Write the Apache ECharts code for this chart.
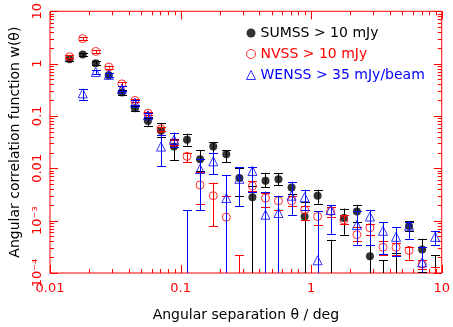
<!DOCTYPE html>
<html><head><meta charset="utf-8">
<script src="https://cdn.jsdelivr.net/npm/echarts@6/dist/echarts.min.js"></script>
<style>html,body{margin:0;padding:0;background:#fff}#c{width:453px;height:327px}</style>
</head><body><div id="c"></div><script>
// angular bins (deg)
const theta = [0.0141, 0.0178, 0.0224, 0.0282, 0.0355, 0.0447, 0.0562, 0.0708, 0.0891, 0.112, 0.141, 0.178, 0.224, 0.282, 0.355, 0.447, 0.562, 0.708, 0.891, 1.12, 1.41, 1.78, 2.24, 2.82, 3.55, 4.47, 5.62, 7.08, 8.91];
// SUMSS > 10 mJy
const sumssW  = [1.21, 1.5, 1.02, 0.60, 0.28, 0.14, 0.080, 0.052, 0.026, 0.035, 0.0149, 0.026, 0.0185, 0.0065, 0.0028, 0.0058, 0.0062, 0.0043, 0.0012, 0.0030, -0.0002, 0.00112, 0.0015, 0.00021, -0.0001, -0.0001, 0.00079, 0.00028, -0.0001];
const sumssLo = [1.12, 1.4, 0.95, 0.55, 0.25, 0.125, 0.064, 0.040, 0.0143, 0.027, 0.009, 0.020, 0.013, 0.003, 0, 0.0043, 0.0048, 0.0033, 0, 0.0021, 0, 0.00054, 0.00096, 0, 0, 0, 0.00064, 0.000104, 0];
const sumssHi = [1.30, 1.6, 1.1, 0.65, 0.31, 0.155, 0.090, 0.073, 0.036, 0.046, 0.022, 0.032, 0.022, 0.010, 0.0045, 0.0082, 0.0081, 0.0055, 0.0023, 0.0039, 0.00043, 0.0017, 0.0020, 0.00054, 0.000175, 0.00024, 0.00098, 0.00045, 0.00022];
// NVSS > 10 mJy
const nvssW  = [1.35, 3.0, 1.71, 0.86, 0.41, 0.198, 0.113, 0.057, 0.031, 0.0169, 0.0048, 0.0030, 0.00117, -0.0001, 0.0046, 0.0027, 0.0024, 0.0024, 0.0016, 0.0012, 0.0015, 0.00103, 0.00054, 0.00073, 0.00031, 0.00031, 0.00027, 0.000148, -0.0001];
const nvssLo = [1.27, 2.8, 1.6, 0.80, 0.38, 0.185, 0.105, 0.052, 0.028, 0.0131, 0.0021, 0.00079, 0, 0, 0.0037, 0.0018, 0.0016, 0.0019, 0.00103, 0.00083, 0.00115, 0.00086, 0.0004, 0.00054, 0.00022, 0.00022, 0.00018, 0.00012, 0];
const nvssHi = [1.45, 3.2, 1.82, 0.92, 0.44, 0.21, 0.121, 0.062, 0.034, 0.020, 0.0085, 0.0053, 0.0030, 0.00022, 0.0058, 0.0034, 0.0029, 0.0029, 0.0019, 0.0015, 0.0018, 0.0013, 0.00076, 0.00086, 0.00040, 0.00038, 0.00032, 0.00018, 0.00013];
// WENSS > 35 mJy/beam
const wenssW  = [null, 0.27, 0.69, 0.61, 0.33, 0.18, 0.103, 0.026, 0.035, -0.0005, 0.0097, 0.0136, 0.0027, 0.0063, 0.0089, 0.0013, 0.0014, 0.0030, 0.0028, 0.000175, 0.0016, null, 0.00083, 0.0012, 0.00064, 0.00049, 0.0008, 0.00016, 0.00049];
const wenssLo = [null, 0.20, 0.63, 0.56, 0.30, 0.165, 0.094, 0.011, 0.026, 0, 0.0016, 0.0078, 0, 0.0019, 0.0035, 0, 0, 0.0013, 0.0016, 0, 0.00056, null, 0.00035, 0.00035, 0.00023, 0.00021, 0.00045, 0, 0.00035];
const wenssHi = [null, 0.33, 0.75, 0.66, 0.37, 0.20, 0.113, 0.044, 0.048, 0.0016, 0.0149, 0.020, 0.0075, 0.0105, 0.0107, 0.0036, 0.0030, 0.0055, 0.0039, 0.0015, 0.0020, null, 0.0015, 0.0016, 0.00094, 0.00076, 0.00094, 0.00031, 0.00064];

const seriesNames = ['SUMSS > 10 mJy', 'NVSS > 10 mJy', 'WENSS > 35 mJy/beam'];
const xTickLabels = ['0.01', '0.1', '1', '10'];
const yTickLabels = ['10\u207B\u2074', '10\u207B\u00B3', '0.01', '0.1', '1', '10'];
const FONT = 'DejaVu Sans';
const RED = '#ff0000', BLUE = '#0000ff', BLACK = '#000000';

// tick marks (major decades + minor 2..9)
const tickData = [];
for (let k = -2; k <= 1; k++) {
  tickData.push([Math.pow(10, k), 1, 0, 1]);
  if (k < 1) for (let n = 2; n <= 9; n++) tickData.push([n * Math.pow(10, k), 1, 0, 0]);
}
for (let k = -4; k <= 1; k++) {
  tickData.push([1, Math.pow(10, k), 1, 1]);
  if (k < 1) for (let n = 2; n <= 9; n++) tickData.push([1, n * Math.pow(10, k), 1, 0]);
}

function renderTicks(params, api) {
  const cs = params.coordSys;
  const kind = api.value(2), major = api.value(3);
  const len = major ? 8 : 4;
  const style = { stroke: RED, lineWidth: 1 };
  if (kind === 0) {
    const x = Math.round(api.coord([api.value(0), 1])[0]) + 0.5;
    const b = cs.y + cs.height;
    return { type: 'group', children: [
      { type: 'line', shape: { x1: x, y1: b, x2: x, y2: b - len }, style },
      { type: 'line', shape: { x1: x, y1: cs.y, x2: x, y2: cs.y + len }, style }
    ]};
  } else {
    const y = Math.round(api.coord([1, api.value(1)])[1]) + 0.5;
    const r = cs.x + cs.width;
    return { type: 'group', children: [
      { type: 'line', shape: { x1: cs.x, y1: y, x2: cs.x + len, y2: y }, style },
      { type: 'line', shape: { x1: r, y1: y, x2: r - len, y2: y }, style }
    ]};
  }
}

function errRenderer(color) {
  return function (params, api) {
    const cs = params.coordSys;
    const t = api.value(0), lo = api.value(1), hi = api.value(2);
    const x = Math.round(api.coord([t, 1])[0]) + 0.5;
    const bottom = cs.y + cs.height, top = cs.y;
    const style = { stroke: color, lineWidth: 1 };
    const kids = [];
    let yl = bottom, capL = false;
    if (lo > 0) { yl = api.coord([t, lo])[1]; capL = yl <= bottom; if (yl > bottom) yl = bottom; }
    let yh = bottom, capH = false;
    if (hi > 0) { yh = api.coord([t, hi])[1]; capH = yh <= bottom && yh >= top; if (yh > bottom) yh = bottom; if (yh < top) yh = top; }
    kids.push({ type: 'line', shape: { x1: x, y1: yl, x2: x, y2: yh }, style });
    const hw = 4.5;
    if (capL) { const y = Math.round(yl) + 0.5; kids.push({ type: 'line', shape: { x1: x - hw, y1: y, x2: x + hw, y2: y }, style }); }
    if (capH) { const y = Math.round(yh) + 0.5; kids.push({ type: 'line', shape: { x1: x - hw, y1: y, x2: x + hw, y2: y }, style }); }
    return { type: 'group', children: kids };
  };
}

function errData(w, lo, hi) {
  const out = [];
  for (let i = 0; i < theta.length; i++) if (w[i] !== null) out.push([theta[i], lo[i], hi[i]]);
  return out;
}
function ptData(w) {
  const out = [];
  for (let i = 0; i < theta.length; i++) if (w[i] !== null && w[i] > 0) out.push([theta[i], w[i]]);
  return out;
}

const chart = echarts.init(document.getElementById('c'), null, { renderer: 'canvas' });
chart.setOption({
  animation: false,
  backgroundColor: '#ffffff',
  grid: { left: 43, right: 10, top: 9, bottom: 51, show: true, borderColor: RED, borderWidth: 1, backgroundColor: 'transparent' },
  legend: {
    orient: 'vertical', left: 241, top: 21, itemWidth: 9, itemHeight: 9, itemGap: 7,
    textStyle: { fontFamily: FONT, fontSize: 14, lineHeight: 14 },
    data: [
      { name: seriesNames[0], icon: 'circle', itemStyle: { color: BLACK }, textStyle: { color: BLACK } },
      { name: seriesNames[1], icon: 'circle', itemStyle: { color: 'rgba(0,0,0,0)', borderColor: RED, borderWidth: 1 }, textStyle: { color: RED } },
      { name: seriesNames[2], icon: 'triangle', itemStyle: { color: 'rgba(0,0,0,0)', borderColor: BLUE, borderWidth: 1 }, textStyle: { color: BLUE } }
    ],
    selectedMode: false
  },
  xAxis: {
    type: 'log', logBase: 10, min: 0.01, max: 10,
    axisLine: { show: false }, axisTick: { show: false }, splitLine: { show: false }, minorTick: { show: false },
    axisLabel: { color: RED, fontFamily: FONT, fontSize: 13, margin: 9, showMinLabel: true, showMaxLabel: true,
      formatter: v => xTickLabels[Math.round(Math.log10(v)) + 2] },
    name: 'Angular separation \u03B8 / deg', nameLocation: 'middle', nameGap: 35,
    nameTextStyle: { color: BLACK, fontFamily: FONT, fontSize: 14 }
  },
  yAxis: {
    type: 'log', logBase: 10, min: 0.0001, max: 10,
    axisLine: { show: false }, axisTick: { show: false }, splitLine: { show: false }, minorTick: { show: false },
    axisLabel: { color: RED, fontFamily: FONT, fontSize: 13, margin: 6, rotate: 90, showMinLabel: true, showMaxLabel: true,
      formatter: v => yTickLabels[Math.round(Math.log10(v)) + 4] },
    name: 'Angular correlation function w(\u03B8)', nameLocation: 'middle', nameGap: 28,
    nameTextStyle: { color: BLACK, fontFamily: FONT, fontSize: 14 }
  },
  series: [
    { type: 'custom', name: 'ticks', silent: true, renderItem: renderTicks, data: tickData, encode: { x: 0, y: 1 }, z: 1 },
    { type: 'custom', name: 'sumssErr', silent: true, renderItem: errRenderer(BLACK), data: errData(sumssW, sumssLo, sumssHi), encode: { x: 0, y: 2 }, z: 2 },
    { type: 'scatter', name: seriesNames[0], silent: true, symbol: 'circle', symbolSize: 8, itemStyle: { color: BLACK }, data: ptData(sumssW), z: 3 },
    { type: 'custom', name: 'nvssErr', silent: true, renderItem: errRenderer(RED), data: errData(nvssW, nvssLo, nvssHi), encode: { x: 0, y: 2 }, z: 4 },
    { type: 'scatter', name: seriesNames[1], silent: true, symbol: 'circle', symbolSize: 8, itemStyle: { color: 'rgba(0,0,0,0)', borderColor: RED, borderWidth: 1 }, data: ptData(nvssW), z: 5 },
    { type: 'custom', name: 'wenssErr', silent: true, renderItem: errRenderer(BLUE), data: errData(wenssW, wenssLo, wenssHi), encode: { x: 0, y: 2 }, z: 6 },
    { type: 'scatter', name: seriesNames[2], silent: true, symbol: 'triangle', symbolSize: 9, itemStyle: { color: 'rgba(0,0,0,0)', borderColor: BLUE, borderWidth: 1 }, data: ptData(wenssW), z: 7 }
  ]
});
</script></body></html>
